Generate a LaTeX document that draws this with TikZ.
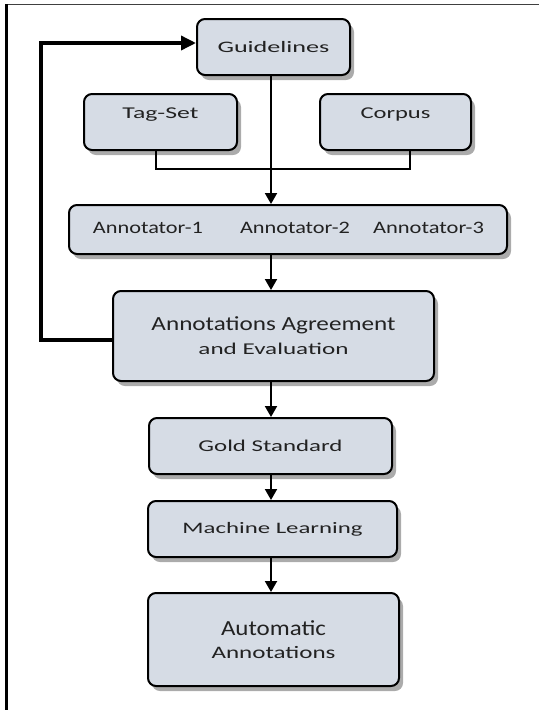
\documentclass[tikz,border=0pt]{standalone}
\usepackage{graphicx}
\usepackage{fontspec}
\setmainfont{Carlito}
\usetikzlibrary{arrows.meta,shadows}
\definecolor{boxfill}{HTML}{D6DCE5}
\definecolor{textgray}{HTML}{222222}
\newcommand\wt[3]{\resizebox{#1pt}{\height}{\fontsize{#2}{#2}\selectfont #3}}
\tikzset{
  box/.style={draw=black, line width=2pt, rounded corners=8pt, fill=boxfill,
    inner sep=0pt, text=textgray, align=center,
    drop shadow={shadow xshift=4pt, shadow yshift=-5pt, fill=black!55, opacity=0.6}},
  lbl/.style={text=textgray, inner sep=0pt},
  conn/.style={line width=2pt, -{Triangle[length=11pt,width=12pt]}},
}
\begin{document}
\begin{tikzpicture}[x=1pt,y=1pt]
\useasboundingbox (0,0) rectangle (539,-710);
% frame
\draw[line width=1.5pt, black!75] (5,-4.5) -- (539,-4.5);
\draw[line width=2.8pt] (6.5,-4) -- (6.5,-710);
% boxes
\node[box, minimum width=153pt, minimum height=56pt] (gl) at (273.5,-47) {\wt{112}{16}{Guidelines}};
\node[box, minimum width=153pt, minimum height=56pt] (ts) at (160.5,-122) {\raisebox{17pt}{\wt{76}{16.5}{Tag-Set}}};
\node[box, minimum width=151pt, minimum height=56pt] (co) at (395.5,-122) {\raisebox{17pt}{\wt{70}{16.5}{Corpus}}};
\node[box, minimum width=438pt, minimum height=49pt] (ann) at (288,-229.5) {};
\node[lbl] (a1) at (148,-227.5) {\wt{110}{17.5}{Annotator-1}};
\node[lbl] (a2) at (295,-227.5) {\wt{110}{17.5}{Annotator-2}};
\node[lbl] (a3) at (428.5,-227.5) {\wt{111}{17.5}{Annotator-3}};
\node[box, minimum width=321pt, minimum height=90pt] (aa) at (273.5,-336)
  {\wt{244}{20}{Annotations Agreement}\\[8pt]\wt{150}{16.5}{and Evaluation}};
\node[box, minimum width=243pt, minimum height=56pt] (gs) at (270.5,-446) {\wt{144}{16.5}{Gold Standard}};
\node[box, minimum width=249pt, minimum height=56pt] (ml) at (272.5,-529) {\wt{180}{16}{Machine Learning}};
\node[box, minimum width=251pt, minimum height=93pt] (au) at (273.5,-639.5)
  {\wt{105}{21.5}{Automatic}\\[10pt]\wt{124}{17.5}{Annotations}};
% connectors
\coordinate (ax) at (271,0);
\coordinate (fb) at (41,0);
\draw[line width=1.5pt] ([xshift=-4.5pt]ts.south) -- ++(0,-18) -| ([xshift=14.5pt]co.south);
\draw[conn] (gl.south -| ax) -- (ann.north -| ax);
\draw[conn] (ann.south -| ax) -- (aa.north -| ax);
\draw[conn] (aa.south -| ax) -- (gs.north -| ax);
\draw[conn] (gs.south -| ax) -- (ml.north -| ax);
\draw[conn] (ml.south -| ax) -- (au.north -| ax);
\draw[line width=3.5pt, -{Triangle[length=15pt,width=14pt]}]
  ([yshift=-4pt]aa.west) -| ([yshift=4pt]gl.west -| fb) -- ([yshift=4pt]gl.west);
\end{tikzpicture}
\end{document}
